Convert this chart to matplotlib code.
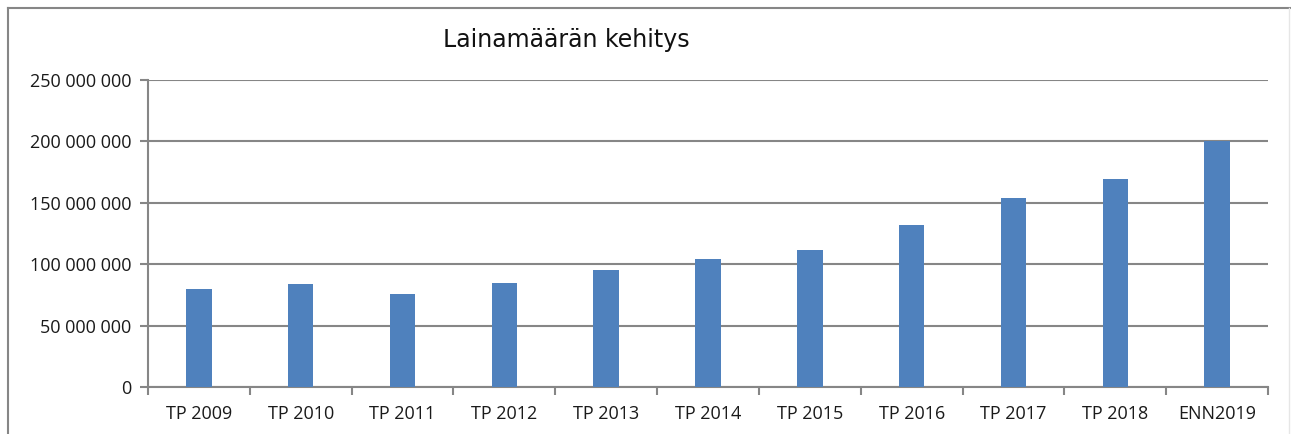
import matplotlib.pyplot as plt
from matplotlib.lines import Line2D
import numpy as np

# Lainamäärät vuosittain (euroa)
categories = ['TP 2009', 'TP 2010', 'TP 2011', 'TP 2012', 'TP 2013', 'TP 2014',
              'TP 2015', 'TP 2016', 'TP 2017', 'TP 2018', 'ENN2019']
loans = [79_400_000, 83_800_000, 75_400_000, 84_300_000, 95_200_000, 103_900_000,
         111_300_000, 132_100_000, 154_200_000, 169_200_000, 200_300_000]
y_ticks = [0, 50_000_000, 100_000_000, 150_000_000, 200_000_000, 250_000_000]

grey = '#868686'
fig = plt.figure(figsize=(12.91, 4.34), dpi=100)
ax = fig.add_axes([148 / 1291, 1 - 387 / 434, 1120 / 1291, 307 / 434])

x = np.arange(len(categories))
ax.bar(x, loans, width=0.25, color='#4F81BD', zorder=3)

ax.set_xlim(-0.5, len(categories) - 0.5)
ax.set_ylim(0, 250_000_000)
ax.set_yticks(y_ticks)
ax.set_yticklabels([f'{v:,}'.replace(',', ' ') for v in y_ticks])
ax.set_xticks(x)
ax.set_xticklabels(categories)
ax.set_xticks(np.arange(-0.5, len(categories)), minor=True)

ax.tick_params(axis='x', which='major', length=0, pad=13, labelsize=13, labelcolor='#1a1a1a')
ax.tick_params(axis='x', which='minor', length=6, width=1.5, color=grey, direction='out')
ax.tick_params(axis='y', length=6, width=1.5, color=grey, pad=6, labelsize=13, labelcolor='#1a1a1a')
for lab in ax.get_xticklabels() + ax.get_yticklabels():
    lab.set_family('Open Sans')

ax.grid(axis='y', color=grey, linewidth=1.5, zorder=0)
for s in ['top', 'right']:
    ax.spines[s].set_visible(False)
for s in ['left', 'bottom']:
    ax.spines[s].set_color(grey)
    ax.spines[s].set_linewidth(1.5)

fig.text(566 / 1291, 1 - 40 / 434, 'Lainamäärän kehitys', ha='center', va='center',
         fontsize=17, family='DejaVu Sans', color='#111111')

# kehys kuvan ympärillä
fig.add_artist(Line2D([8 / 1291, 8 / 1291], [0, 1 - 8 / 434], color=grey, lw=1.5))
fig.add_artist(Line2D([8 / 1291, 1], [1 - 8 / 434, 1 - 8 / 434], color=grey, lw=1.5))
fig.add_artist(Line2D([1289 / 1291, 1289 / 1291], [0, 1 - 8 / 434], color='#e6e6e6', lw=1))

fig.savefig('out.png', dpi=100)
